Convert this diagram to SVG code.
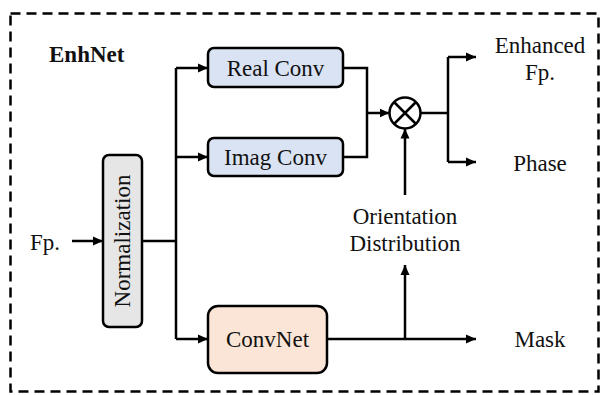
<svg xmlns="http://www.w3.org/2000/svg" width="603" height="395" viewBox="0 0 603 395">
<defs>
<marker id="ah" viewBox="0 0 10 10" refX="10" refY="5" markerWidth="10" markerHeight="10" markerUnits="userSpaceOnUse" orient="auto">
<path d="M0,0.5 L10,5 L0,9.5 z" fill="#000"/>
</marker>
<style>
text{font-family:'Liberation Serif','Times New Roman',serif;font-size:23px;fill:#111}
.b{font-weight:bold}
.box{stroke:#000;stroke-width:2.5}
.ln{fill:none;stroke:#000;stroke-width:2.5}
.ar{marker-end:url(#ah)}
</style>
</defs>
<rect width="603" height="395" fill="#fff"/>
<rect x="10.5" y="13.5" width="588" height="378" fill="none" stroke="#000" stroke-width="2.5" stroke-dasharray="10 6"/>
<g id="title"><text class="b" x="49" y="62">EnhNet</text></g>
<g id="fp"><text x="30" y="250">Fp.</text></g>
<g id="normalization">
<rect class="box" x="103" y="155" width="39" height="172" rx="6" fill="#e7e6e6"/>
<text transform="translate(130,241) rotate(-90)" text-anchor="middle">Normalization</text>
</g>
<g id="realconv">
<rect class="box" x="208" y="48" width="135" height="39" rx="6" fill="#dae3f3"/>
<text x="275.5" y="76" text-anchor="middle">Real Conv</text>
</g>
<g id="imagconv">
<rect class="box" x="208" y="138" width="135" height="38" rx="6" fill="#dae3f3"/>
<text x="275.5" y="165" text-anchor="middle">Imag Conv</text>
</g>
<g id="convnet">
<rect class="box" x="208" y="306" width="119" height="67" rx="10" fill="#fbe5d6"/>
<text x="267.5" y="347" text-anchor="middle">ConvNet</text>
</g>
<g id="multiply">
<circle cx="405" cy="113" r="15.5" fill="#fff" stroke="#000" stroke-width="2.5"/>
<path d="M394,102 L416,124 M416,102 L394,124" stroke="#000" stroke-width="2.5"/>
</g>
<g id="enhanced"><text x="540" y="53" text-anchor="middle">Enhanced</text><text x="540" y="80" text-anchor="middle">Fp.</text></g>
<g id="phase"><text x="540" y="171" text-anchor="middle">Phase</text></g>
<g id="orientation"><text x="405" y="224" text-anchor="middle">Orientation</text><text x="405" y="251" text-anchor="middle">Distribution</text></g>
<g id="mask"><text x="540" y="347" text-anchor="middle">Mask</text></g>
<g id="connectors">
<path class="ln ar" d="M72,241 H103"/>
<path class="ln" d="M142,241 H176"/>
<path class="ln" d="M176,68 V339"/>
<path class="ln ar" d="M176,68 H208"/>
<path class="ln ar" d="M176,157 H208"/>
<path class="ln ar" d="M176,339 H208"/>
<path class="ln" d="M343,68 H367 V157 H343"/>
<path class="ln ar" d="M367,113 H389.5"/>
<path class="ln" d="M420.5,113 H448"/>
<path class="ln" d="M448,57 V162"/>
<path class="ln ar" d="M448,57 H476"/>
<path class="ln ar" d="M448,162 H476"/>
<path class="ln ar" d="M405,195 V128.5"/>
<path class="ln ar" d="M327,339 H476"/>
<path class="ln ar" d="M405,339 V265"/>
</g>
</svg>
